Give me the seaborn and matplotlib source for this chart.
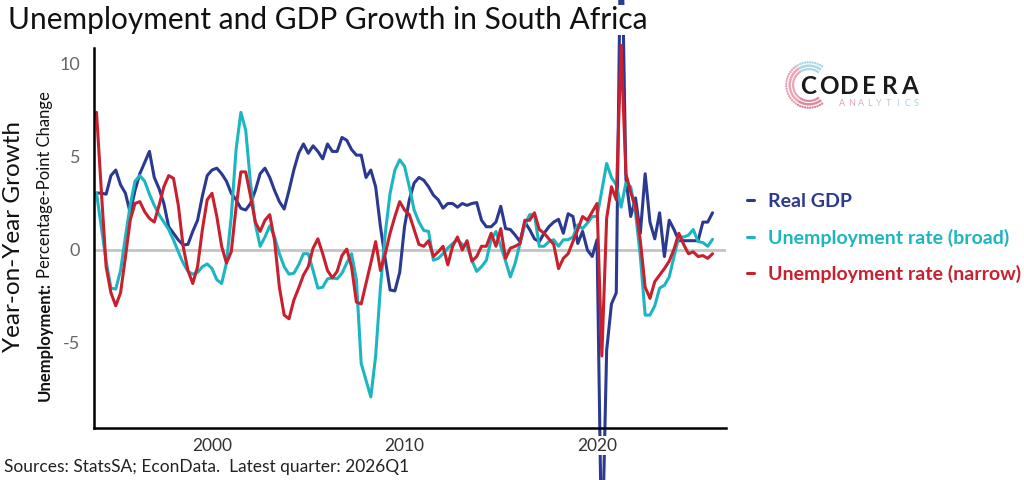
"""
Unemployment and GDP growth in South Africa (year-on-year)
"""
import numpy as np
import pandas as pd
import matplotlib
matplotlib.use("Agg")
import matplotlib.pyplot as plt
import seaborn as sns

# ---- data ----
quarters = pd.period_range("1994Q1", "2026Q1", freq="Q")

gdp_growth = [
    3.06, 3.06, 3.0, 4.0, 4.3, 3.5, 3.06, 2.0, 3.2, 4.1,
    4.7, 5.3, 3.9, 3.3, 2.5, 1.25, 0.9, 0.54, 0.27, 0.3,
    1.0, 1.6, 2.9, 4.0, 4.3, 4.4, 4.1, 3.7, 3.05, 2.7,
    2.24, 2.15, 2.5, 3.2, 4.1, 4.4, 3.9, 3.2, 2.6, 2.2,
    3.2, 4.3, 5.2, 5.7, 5.2, 5.6, 5.3, 4.9, 5.7, 5.3,
    5.3, 6.05, 5.9, 5.4, 5.1, 5.1, 3.9, 4.3, 3.4, 1.25,
    -0.5, -2.15, -2.2, -1.2, 1.25, 2.7, 3.6, 3.9, 3.75, 3.4,
    2.95, 2.7, 2.25, 2.5, 2.5, 2.3, 2.5, 2.4, 2.5, 2.55,
    1.6, 1.25, 1.25, 1.5, 2.35, 1.15, 1.1, 0.8, 0.45, 1.5,
    1.1, 0.6, 0.45, 0.9, 1.25, 1.5, 1.65, 0.9, 1.95, 1.8,
    0.35, 1.0, 0.0, -0.35, 0.55, -17.0, -5.4, -2.9, -2.3, 19.0,
    3.85, 1.8, 2.8, 0.9, 4.1, 1.5, 0.6, 2.0, -0.35, 1.6,
    1.1, 0.5, 0.5, 0.5, 0.5, 0.5, 1.5, 1.5, 2.0,
]

unemp_broad = [
    3.06, 1.25, -0.6, -2.05, -2.1, -1.1, 0.7, 2.4, 3.7, 4.0,
    3.7, 3.0, 2.4, 1.9, 1.5, 1.1, 0.54, -0.1, -0.7, -1.15,
    -1.3, -1.2, -0.9, -0.75, -1.0, -1.6, -1.8, -0.7, 1.8, 5.4,
    7.4, 6.45, 3.6, 1.4, 0.2, 0.7, 1.3, 0.7, -0.2, -0.9,
    -1.3, -1.25, -0.8, -0.2, -0.2, -1.1, -2.05, -2.0, -1.55, -1.5,
    -1.55, -1.25, -0.7, -0.2, -1.6, -6.1, -7.0, -7.9, -5.7, -2.0,
    0.9, 3.05, 4.3, 4.85, 4.5, 3.4, 2.15, 1.5, 1.05, 1.0,
    -0.55, -0.45, -0.2, 0.1, 0.35, 0.55, 0.3, 0.2, -0.55, -1.15,
    -0.9, -0.55, 0.55, 1.0, 0.2, -0.6, -1.45, -0.7, 0.35, 1.35,
    1.9, 1.9, 0.2, 0.2, 0.45, 0.55, 0.2, 0.55, 0.55, 0.7,
    1.35, 1.15, 1.45, 1.8, 1.8, 3.2, 4.65, 3.9, 3.5, 2.3,
    3.6, 3.4, 2.0, -0.35, -3.5, -3.5, -3.0, -2.05, -1.9, -1.45,
    -0.35, 0.7, 0.7, 0.8, 1.1, 0.45, 0.4, 0.2, 0.57,
]

unemp_narrow = [
    7.4, 3.2, -0.9, -2.3, -3.0, -2.3, -0.4, 1.6, 2.5, 2.6,
    2.06, 1.7, 1.5, 2.4, 3.4, 4.0, 3.85, 2.4, 0.2, -1.1,
    -1.8, -0.9, 1.1, 2.7, 3.05, 1.8, 0.2, -0.7, -0.1, 2.3,
    4.2, 4.2, 2.9, 1.5, 1.0, 1.6, 1.9, 0.5, -2.0, -3.5,
    -3.7, -2.7, -2.05, -1.35, -0.9, 0.1, 0.6, -0.2, -1.1, -1.5,
    -1.15, -0.3, 0.05, -0.9, -2.8, -2.9, -1.8, -0.7, 0.45, -1.1,
    -0.2, 0.9, 1.8, 2.6, 2.15, 1.9, 1.1, 0.3, 0.2, 0.5,
    -0.35, -0.1, 0.2, -0.8, 0.2, 0.7, 0.0, 0.5, -0.6, -0.35,
    0.2, 0.2, 0.9, 0.2, 1.15, -0.45, 0.1, 0.2, 0.35, 1.6,
    1.6, 2.0, 1.1, 0.9, 0.6, 0.3, -1.0, -0.45, -0.2, 0.45,
    1.1, 1.8, 1.6, 2.05, 2.5, -5.7, 1.7, 3.4, 2.7, 11.0,
    4.1, 3.1, 2.3, 0.5, -2.0, -2.6, -1.7, -1.35, -1.0, -0.6,
    0.05, 0.9, 0.3, -0.2, -0.1, -0.35, -0.3, -0.45, -0.2,
]

series_names = ["Real GDP", "Unemployment rate (broad)", "Unemployment rate (narrow)"]
series_colors = ["#2b3990", "#1cb6c1", "#c8202f"]
x_ticks = [2000, 2010, 2020]
y_ticks = [10, 5, 0, -5]

# long-form table for seaborn
year_frac = quarters.year + (quarters.quarter - 1) / 4
df = pd.concat([
    pd.DataFrame({"year": year_frac, "value": vals, "series": name})
    for name, vals in zip(series_names, [gdp_growth, unemp_broad, unemp_narrow])
], ignore_index=True)

# ---- style ----
sns.set_theme(style="white")
plt.rcParams["font.family"] = ["Lato", "DejaVu Sans"]
plt.rcParams["axes.unicode_minus"] = False

W, H = 1024, 480
fig = plt.figure(figsize=(W / 100, H / 100), dpi=100)
ax = fig.add_axes([94 / W, 52 / H, 632 / W, 380 / H])

ax.axhline(0, color="#c4c4c4", lw=2, zorder=1)
sns.lineplot(data=df, x="year", y="value", hue="series", hue_order=series_names,
             palette=series_colors, estimator=None, errorbar=None, lw=2.2,
             legend=False, ax=ax)
for line in ax.lines[1:]:
    line.set_clip_on(False)

ax.set_xlim(1993.87, 2026.7)
ax.set_ylim(-9.57, 10.86)
ax.set_xticks(x_ticks)
ax.set_yticks(y_ticks)
ax.set_xlabel("")
ax.set_ylabel("")
ax.set_axisbelow(False)

sns.despine(ax=ax)
for side in ["left", "bottom"]:
    ax.spines[side].set_color("black")
    ax.spines[side].set_linewidth(1.8)
    ax.spines[side].set_zorder(3)

ax.tick_params(axis="x", length=0, labelsize=12.5, labelcolor="#333333", pad=7)
ax.tick_params(axis="y", length=0, labelsize=13, labelcolor="#666666", pad=10)
plt.setp(ax.get_xticklabels(), bbox=dict(facecolor="white", edgecolor="none", pad=1))

# ---- titles & labels ----
fig.text(8 / W, 1 - 20 / H, "Unemployment and GDP Growth in South Africa",
         fontsize=21.5, color="#111111", ha="left", va="center",
         bbox=dict(facecolor="white", edgecolor="none", pad=1))

fig.text(14 / W, 1 - 237 / H, "Year-on-Year Growth", rotation=90,
         fontsize=17.5, color="#111111", ha="center", va="center")

lab1 = fig.text(45 / W, 1 - 401 / H, "Unemployment:", rotation=90, fontsize=12,
                fontweight="bold", color="#111111", ha="center", va="bottom")
fig.canvas.draw()
ext = lab1.get_window_extent()
fig.text(45 / W, (ext.y1 + 4) / H, "Percentage-Point Change", rotation=90,
         fontsize=12, color="#111111", ha="center", va="bottom")

fig.text(4 / W, 1 - 467 / H, "Sources: StatsSA; EconData.  Latest quarter: 2026Q1",
         fontsize=12.5, color="#222222", ha="left", va="center")

# ---- legend ----
fig.legend(handles=ax.lines[1:], labels=series_names, loc="upper left",
           bbox_to_anchor=(747 / W, 1 - 193 / H), frameon=False,
           handlelength=0.35, handletextpad=0.75, labelspacing=0.95,
           borderpad=0, borderaxespad=0, labelcolor="linecolor",
           prop={"size": 14, "weight": "bold"})

# ---- logo ----
logo_ax = fig.add_axes([784 / W, 1 - 110 / H, 50 / W, 50 / H])
logo_ax.set_xlim(-1.1, 1.1)
logo_ax.set_ylim(-1.1, 1.1)
logo_ax.set_aspect("equal")
logo_ax.axis("off")
ang = np.radians(np.linspace(55, 305, 40))
for r, s in [(1.0, 3), (0.85, 4), (0.7, 3)]:
    cols = [("#a8d8e4" if a < np.radians(120) else "#e8a4b4" if a < np.radians(240) else "#d9889c")
            for a in ang]
    logo_ax.scatter(r * np.cos(ang), r * np.sin(ang), s=s, c=cols, lw=0)

for i, ch in enumerate("CODERA"):
    fig.text((808 + i * 20.4) / W, 1 - 87 / H, ch, fontsize=17.5, fontweight="bold",
             color="#1a1a1a", ha="center", va="center")
sub_cols = ["#e89aac", "#e8a2b2", "#e4acba", "#dcb6c4", "#c9c4d0",
            "#b8ccd8", "#aad2de", "#a2d4e0", "#9ed6e2"]
for i, ch in enumerate("ANALYTICS"):
    fig.text((842 + i * 9.3) / W, 1 - 103 / H, ch, fontsize=6.5,
             color=sub_cols[i], ha="center", va="center")

fig.savefig("out.png", dpi=100)
